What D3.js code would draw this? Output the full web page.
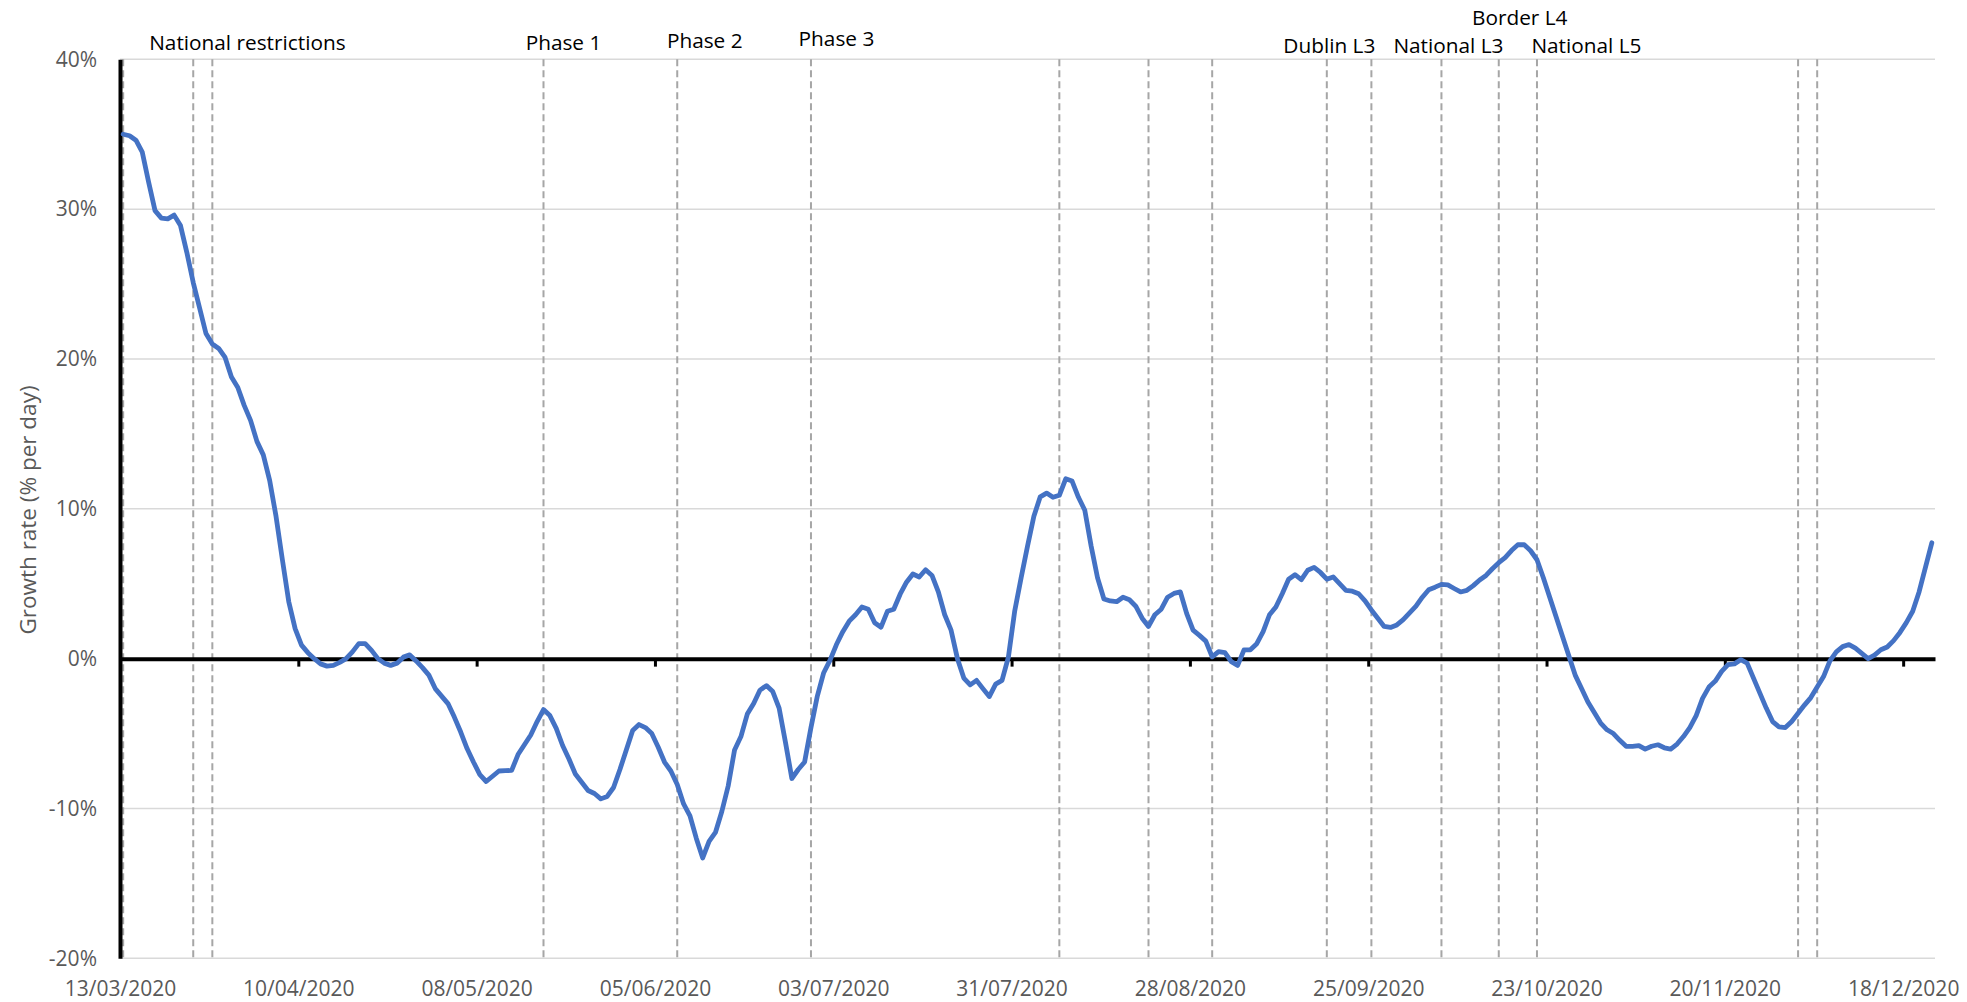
<!DOCTYPE html>
<html>
<head>
<meta charset="utf-8">
<script src="https://cdn.jsdelivr.net/npm/d3@7"></script>
<style>
  html, body { margin: 0; padding: 0; background: #ffffff; }
  svg { display: block; }
</style>
</head>
<body>
<svg id="chart" width="1967" height="1002"></svg>
<script>
// ---------------- DATA ----------------
const startDate = "2020-03-13";   // first day of the series (one value per day)
const growthRate = [
  35.0, 34.9, 34.6, 33.8, 31.8, 29.9, 29.4, 29.35, 29.6, 28.9,
  27.1, 25.1, 23.4, 21.7, 21.0, 20.7, 20.1, 18.8, 18.1, 16.9,
  15.9, 14.5, 13.6, 11.9, 9.5, 6.6, 3.8, 2.0, 0.9, 0.4,
  0.0, -0.35, -0.5, -0.45, -0.25, 0.0, 0.45, 1.0, 1.0, 0.55,
  0.0, -0.3, -0.45, -0.3, 0.1, 0.25, -0.15, -0.6, -1.1, -2.0,
  -2.5, -3.0, -3.9, -4.9, -6.0, -6.9, -7.74, -8.2, -7.85, -7.5,
  -7.48, -7.46, -6.4, -5.75, -5.1, -4.2, -3.4, -3.8, -4.65, -5.8,
  -6.7, -7.7, -8.25, -8.8, -9.0, -9.36, -9.2, -8.6, -7.4, -6.1,
  -4.8, -4.4, -4.6, -5.0, -5.9, -6.9, -7.5, -8.4, -9.7, -10.5,
  -12.0, -13.3, -12.2, -11.6, -10.2, -8.5, -6.1, -5.2, -3.7, -3.0,
  -2.1, -1.8, -2.2, -3.3, -5.6, -8.0, -7.4, -6.9, -4.6, -2.5,
  -0.94, -0.1, 0.94, 1.8, 2.5, 2.93, 3.45, 3.3, 2.4, 2.1,
  3.16, 3.3, 4.3, 5.1, 5.65, 5.45, 5.93, 5.55, 4.45, 2.93,
  1.9, 0.0, -1.3, -1.75, -1.45, -2.0, -2.53, -1.7, -1.45, 0.1,
  3.2, 5.4, 7.5, 9.5, 10.8, 11.05, 10.77, 10.9, 12.0, 11.85,
  10.77, 9.9, 7.5, 5.39, 3.98, 3.85, 3.8, 4.1, 3.93, 3.5,
  2.7, 2.15, 2.93, 3.3, 4.1, 4.35, 4.45, 3.0, 1.9, 1.55,
  1.17, 0.12, 0.47, 0.4, -0.2, -0.45, 0.59, 0.59, 1.0, 1.8,
  2.93, 3.45, 4.33, 5.3, 5.6, 5.27, 5.9, 6.09, 5.75, 5.3,
  5.45, 5.0, 4.55, 4.5, 4.33, 3.86, 3.25, 2.7, 2.15, 2.08,
  2.25, 2.6, 3.05, 3.5, 4.1, 4.6, 4.77, 4.96, 4.92, 4.68,
  4.45, 4.56, 4.87, 5.25, 5.55, 6.0, 6.4, 6.74, 7.21, 7.6,
  7.6, 7.2, 6.6, 5.4, 4.1, 2.8, 1.5, 0.2, -1.1, -2.0,
  -2.9, -3.6, -4.3, -4.75, -5.0, -5.45, -5.85, -5.85, -5.8, -6.04,
  -5.85, -5.75, -5.95, -6.04, -5.7, -5.2, -4.6, -3.8, -2.65, -1.9,
  -1.5, -0.85, -0.4, -0.35, -0.07, -0.3, -1.3, -2.3, -3.3, -4.2,
  -4.55, -4.6, -4.2, -3.65, -3.1, -2.6, -1.9, -1.2, -0.15, 0.45,
  0.8, 0.94, 0.7, 0.35, 0.0, 0.23, 0.59, 0.78, 1.2, 1.75,
  2.4, 3.16, 4.45, 6.09, 7.73
];
const yTicks = [-20, -10, 0, 10, 20, 30, 40];
const xTickLabels = ["13/03/2020", "10/04/2020", "08/05/2020", "05/06/2020", "03/07/2020",
  "31/07/2020", "28/08/2020", "25/09/2020", "23/10/2020", "20/11/2020", "18/12/2020"];
const eventDates = ["2020-03-13", "2020-03-24", "2020-03-27", "2020-05-18", "2020-06-08",
  "2020-06-29", "2020-08-07", "2020-08-21", "2020-08-31", "2020-09-18", "2020-09-25",
  "2020-10-06", "2020-10-15", "2020-10-21", "2020-12-01", "2020-12-04"];
const annotationLabels = ["National restrictions", "Phase 1", "Phase 2", "Phase 3",
  "Dublin L3", "National L3", "Border L4", "National L5"];
const annotationEvents = ["2020-03-13", "2020-05-18", "2020-06-08", "2020-06-29",
  "2020-09-18", "2020-10-06", "2020-10-15", "2020-10-21"];
const yTitle = "Growth rate (% per day)";

// ---------------- LAYOUT ----------------
const W = 1967, H = 1002;
const plot = { left: 120, right: 1935, top: 59.3, bottom: 958.3 };
const FONT = "'Open Sans', 'Liberation Sans', sans-serif";
// label placement relative to its event line (text anchor, dx, baseline y)
const annLayout = [
  { anchor: "start",  dx: 26,   y: 50 },
  { anchor: "middle", dx: 20,   y: 50 },
  { anchor: "middle", dx: 27.5, y: 48 },
  { anchor: "middle", dx: 25.5, y: 46 },
  { anchor: "middle", dx: 2.5,  y: 53 },
  { anchor: "middle", dx: 7,    y: 53 },
  { anchor: "middle", dx: 21,   y: 25 },
  { anchor: "middle", dx: 49.5, y: 53 }
];

const parseISO = d3.utcParse("%Y-%m-%d");
const parseDMY = d3.utcParse("%d/%m/%Y");
const fmtDMY = d3.utcFormat("%d/%m/%Y");
const t0 = parseISO(startDate);
const nDays = growthRate.length;
const mid = d => d3.utcHour.offset(d, 12);   // points sit in the middle of their day

const data = growthRate.map((v, i) => ({ date: d3.utcDay.offset(t0, i), v }));

const x = d3.scaleUtc()
  .domain([t0, d3.utcDay.offset(t0, nDays)])
  .range([plot.left, plot.right]);
const y = d3.scaleLinear()
  .domain([d3.min(yTicks), d3.max(yTicks)])
  .range([plot.bottom, plot.top]);

const svg = d3.select("#chart");
svg.append("rect").attr("width", W).attr("height", H).attr("fill", "#ffffff");

// gridlines
svg.append("g").selectAll("line")
  .data(yTicks.filter(t => t !== 0))
  .join("line")
  .attr("x1", plot.left).attr("x2", plot.right)
  .attr("y1", d => y(d)).attr("y2", d => y(d))
  .attr("stroke", "#d9d9d9").attr("stroke-width", 1.5);

// event (dashed) lines
svg.append("g").selectAll("line")
  .data(eventDates.map(parseISO))
  .join("line")
  .attr("x1", d => x(mid(d))).attr("x2", d => x(mid(d)))
  .attr("y1", plot.top).attr("y2", plot.bottom)
  .attr("stroke", "#a6a6a6").attr("stroke-width", 2)
  .attr("stroke-dasharray", "7,4");

// x axis on the zero line (ticks only)
const tickDates = xTickLabels.map(parseDMY);
const zeroAxis = svg.append("g")
  .attr("transform", `translate(0,${y(0)})`)
  .call(d3.axisBottom(x).tickValues(tickDates).tickSize(8).tickSizeOuter(0).tickFormat(""));
zeroAxis.select(".domain").attr("stroke", "#000").attr("stroke-width", 4);
zeroAxis.selectAll(".tick line").attr("stroke", "#000").attr("stroke-width", 3);

// x labels at the bottom
const xLab = svg.append("g")
  .attr("transform", `translate(0,${plot.bottom})`)
  .call(d3.axisBottom(x).tickValues(tickDates).tickSize(0).tickPadding(23).tickFormat(fmtDMY));
xLab.select(".domain").remove();
xLab.selectAll("text")
  .attr("font-family", FONT).attr("font-size", 21).attr("fill", "#595959");

// y axis
const yAx = svg.append("g")
  .attr("transform", `translate(${plot.left},0)`)
  .call(d3.axisLeft(y).tickValues(yTicks).tickSize(0).tickSizeOuter(0).tickPadding(23)
    .tickFormat(d => d + "%"));
yAx.select(".domain").attr("stroke", "#000").attr("stroke-width", 4);
yAx.selectAll("text")
  .attr("font-family", FONT).attr("font-size", 21).attr("fill", "#595959");

// y title
svg.append("text")
  .attr("transform", `translate(35.5,510) rotate(-90)`)
  .attr("text-anchor", "middle")
  .attr("font-family", FONT).attr("font-size", 22.5).attr("fill", "#595959")
  .text(yTitle);

// series line
svg.append("path")
  .datum(data)
  .attr("fill", "none")
  .attr("stroke", "#4472C4")
  .attr("stroke-width", 4.8)
  .attr("stroke-linejoin", "round")
  .attr("stroke-linecap", "round")
  .attr("d", d3.line().x(d => x(mid(d.date))).y(d => y(d.v)));

// annotations
svg.append("g").selectAll("text")
  .data(annotationLabels.map((t, i) => ({ t, date: parseISO(annotationEvents[i]), L: annLayout[i] })))
  .join("text")
  .attr("x", d => x(mid(d.date)) + d.L.dx)
  .attr("y", d => d.L.y)
  .attr("text-anchor", d => d.L.anchor)
  .attr("font-family", FONT).attr("font-size", 20.8).attr("fill", "#000")
  .text(d => d.t);
</script>
</body>
</html>
